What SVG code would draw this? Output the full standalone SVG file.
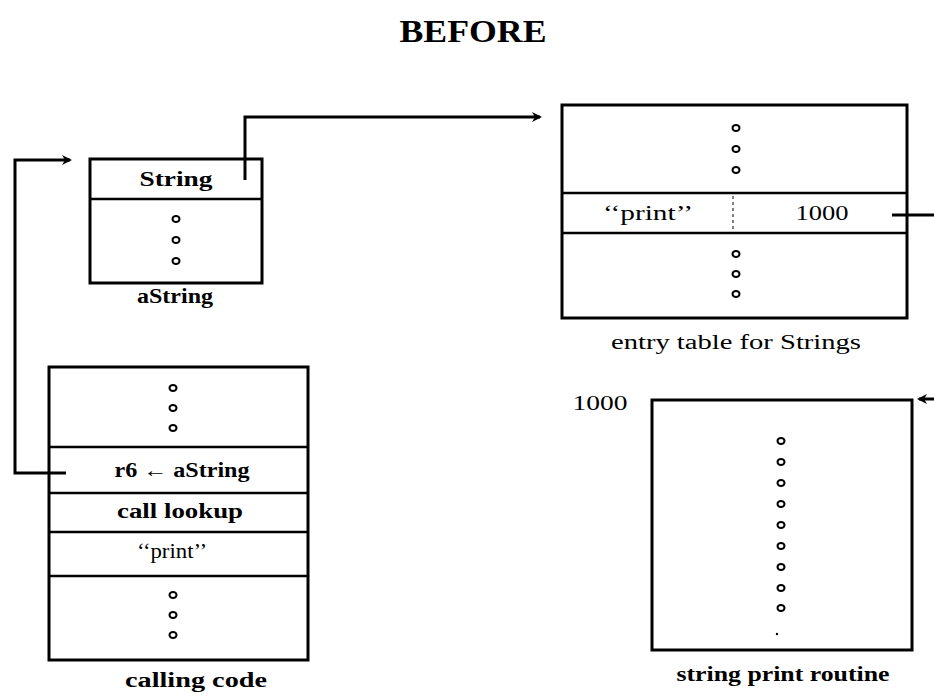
<svg xmlns="http://www.w3.org/2000/svg" width="934" height="697" viewBox="0 0 934 697">
<defs>
<marker id="ah" markerWidth="10" markerHeight="10" refX="8" refY="5" orient="auto" markerUnits="userSpaceOnUse" viewBox="0 0 10 10">
<path d="M0,0 L10,5 L0,10 L3,5 Z" fill="#000"/>
</marker>
<style>
.box{fill:#fff;stroke:#000;stroke-width:3}
.div{stroke:#000;stroke-width:2.5}
.t{font-family:"Liberation Serif","DejaVu Serif",serif;font-size:20px;fill:#000;text-anchor:middle}
.b{font-weight:bold}
.big{font-size:31px}
.c{fill:none;stroke:#000;stroke-width:2}
.conn{fill:none;stroke:#000;stroke-width:3}
</style>
</defs>
<rect width="934" height="697" fill="#fff"/>
<text class="t b big" x="473" y="42" textLength="147" lengthAdjust="spacingAndGlyphs">BEFORE</text>

<g id="aString">
<rect class="box" x="90" y="159" width="172" height="124"/>
<line class="div" x1="90" y1="199" x2="262" y2="199"/>
<text class="t b" x="176" y="186" textLength="73" lengthAdjust="spacingAndGlyphs">String</text>
<ellipse class="c" cx="176" cy="219" rx="3.5" ry="3"/>
<ellipse class="c" cx="176" cy="240" rx="3.5" ry="3"/>
<ellipse class="c" cx="176" cy="261" rx="3.5" ry="3"/>
<text class="t b" x="175" y="303" textLength="76" lengthAdjust="spacingAndGlyphs">aString</text>
</g>

<g id="entryTable">
<rect class="box" x="562" y="105" width="345" height="213"/>
<line class="div" x1="562" y1="193" x2="907" y2="193"/>
<line class="div" x1="562" y1="233" x2="907" y2="233"/>
<line x1="733" y1="196" x2="733" y2="231" stroke="#000" stroke-width="1" stroke-dasharray="3,3"/>
<ellipse class="c" cx="736" cy="128" rx="3.5" ry="3"/>
<ellipse class="c" cx="736" cy="149" rx="3.5" ry="3"/>
<ellipse class="c" cx="736" cy="170" rx="3.5" ry="3"/>
<text class="t" x="648" y="220" textLength="90" lengthAdjust="spacingAndGlyphs">‘‘print’’</text>
<text class="t" x="822" y="220" textLength="53" lengthAdjust="spacingAndGlyphs">1000</text>
<ellipse class="c" cx="736" cy="254" rx="3.5" ry="3"/>
<ellipse class="c" cx="736" cy="274" rx="3.5" ry="3"/>
<ellipse class="c" cx="736" cy="294" rx="3.5" ry="3"/>
<text class="t" x="736" y="349" textLength="250" lengthAdjust="spacingAndGlyphs">entry table for Strings</text>
</g>

<g id="callingCode">
<rect class="box" x="49" y="367" width="259" height="293"/>
<line class="div" x1="49" y1="447" x2="308" y2="447"/>
<line class="div" x1="49" y1="493" x2="308" y2="493"/>
<line class="div" x1="49" y1="532" x2="308" y2="532"/>
<line class="div" x1="49" y1="576" x2="308" y2="576"/>
<ellipse class="c" cx="173" cy="388" rx="3.5" ry="3"/>
<ellipse class="c" cx="173" cy="408" rx="3.5" ry="3"/>
<ellipse class="c" cx="173" cy="428" rx="3.5" ry="3"/>
<text class="t b" x="182" y="477" textLength="135" lengthAdjust="spacingAndGlyphs">r6 ← aString</text>
<text class="t b" x="180" y="518" textLength="126" lengthAdjust="spacingAndGlyphs">call lookup</text>
<text class="t" x="172" y="558" textLength="70" lengthAdjust="spacingAndGlyphs">‘‘print’’</text>
<ellipse class="c" cx="173" cy="595" rx="3.5" ry="3"/>
<ellipse class="c" cx="173" cy="615" rx="3.5" ry="3"/>
<ellipse class="c" cx="173" cy="635" rx="3.5" ry="3"/>
<text class="t b" x="196" y="687" textLength="142" lengthAdjust="spacingAndGlyphs">calling code</text>
</g>

<g id="printRoutine">
<rect class="box" x="652" y="400" width="260" height="250"/>
<text class="t" x="600" y="410" textLength="55" lengthAdjust="spacingAndGlyphs">1000</text>
<ellipse class="c" cx="781" cy="441" rx="3.5" ry="3"/>
<ellipse class="c" cx="781" cy="462" rx="3.5" ry="3"/>
<ellipse class="c" cx="781" cy="483" rx="3.5" ry="3"/>
<ellipse class="c" cx="781" cy="504" rx="3.5" ry="3"/>
<ellipse class="c" cx="781" cy="525" rx="3.5" ry="3"/>
<ellipse class="c" cx="781" cy="546" rx="3.5" ry="3"/>
<ellipse class="c" cx="781" cy="567" rx="3.5" ry="3"/>
<ellipse class="c" cx="781" cy="588" rx="3.5" ry="3"/>
<ellipse class="c" cx="781" cy="608" rx="3.5" ry="3"/>
<circle cx="777" cy="634" r="1.2" fill="#000"/>
<text class="t b" x="783" y="681" textLength="213" lengthAdjust="spacingAndGlyphs">string print routine</text>
</g>

<g id="connectors">
<path class="conn" d="M245,180 V117 H540" marker-end="url(#ah)"/>
<path class="conn" d="M66,473 H15 V160 H70" marker-end="url(#ah)"/>
<path class="conn" d="M892,215 H945 V399 H919" marker-end="url(#ah)"/>
</g>
</svg>
